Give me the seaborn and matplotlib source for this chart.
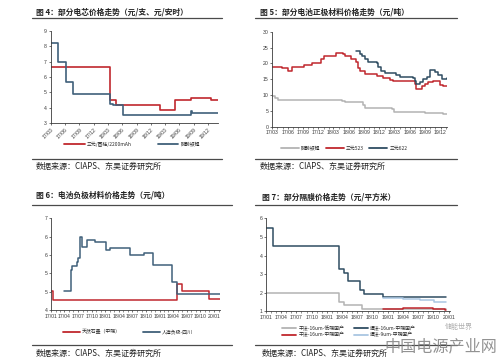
import matplotlib
matplotlib.use("Agg")
import matplotlib.pyplot as plt
import matplotlib.dates as mdates
import matplotlib.ticker as mticker
from matplotlib.lines import Line2D
import seaborn as sns
import pandas as pd

# ---------------- data ----------------
# Fig 4: cell prices
f4_ncm_dates = ["2017-03-01", "2018-03-13", "2018-04-22", "2019-01-28", "2019-05-07",
                "2019-08-13", "2019-12-22", "2020-02-01"]
f4_ncm_vals = [6.65, 4.50, 4.15, 3.85, 4.50, 4.65, 4.50, 4.50]
f4_lfp_dates = ["2017-03-01", "2017-04-18", "2017-06-04", "2017-07-22", "2018-03-13",
                "2018-04-01", "2018-06-04", "2019-08-13", "2019-08-19", "2020-02-01"]
f4_lfp_vals = [8.25, 7.00, 5.65, 4.90, 4.25, 4.15, 3.50, 3.80, 3.65, 3.65]

# Fig 5: cathode prices
f5_lfp_dates = ["2017-03-01", "2017-03-16", "2017-04-07", "2018-04-19", "2018-05-07",
                "2018-08-25", "2018-09-07", "2019-01-04", "2019-02-16", "2019-03-01",
                "2019-05-19", "2019-09-01", "2019-12-16", "2020-01-07"]
f5_lfp_vals = [9.8, 9.0, 8.5, 8.0, 7.7, 6.7, 6.0, 5.8, 5.5, 4.7, 4.5, 4.2, 4.0, 4.0]
f5_523_dates = ["2017-03-01", "2017-04-26", "2017-06-05", "2017-06-25", "2017-09-04",
                "2017-10-22", "2017-12-16", "2018-01-01", "2018-03-19", "2018-04-28",
                "2018-05-07", "2018-06-16", "2018-07-16", "2018-07-28", "2018-08-07",
                "2018-09-07", "2018-11-16", "2018-12-25", "2019-02-01", "2019-02-22",
                "2019-07-01", "2019-07-10", "2019-08-10", "2019-08-28", "2019-09-19",
                "2019-10-19", "2019-11-28", "2019-12-16", "2020-01-07"]
f5_523_vals = [19.0, 18.6, 17.6, 18.7, 19.5, 20.0, 21.3, 22.3, 23.3, 23.0,
               22.3, 21.5, 20.5, 18.5, 17.5, 16.7, 16.0, 15.3, 14.7, 14.3,
               13.5, 11.8, 12.8, 13.5, 14.0, 14.5, 13.3, 12.7, 12.7]
f5_622_dates = ["2018-07-16", "2018-08-07", "2018-08-16", "2018-09-07", "2018-09-25",
                "2018-11-16", "2018-11-25", "2018-12-13", "2019-01-04", "2019-03-13",
                "2019-04-01", "2019-06-19", "2019-07-01", "2019-07-10", "2019-08-01",
                "2019-08-19", "2019-09-10", "2019-10-01", "2019-10-28", "2019-11-16",
                "2019-12-07", "2020-01-07"]
f5_622_vals = [23.8, 23.0, 22.3, 21.3, 20.5, 20.0, 18.7, 17.5, 17.0, 16.3,
               15.8, 15.3, 14.5, 13.5, 14.2, 15.0, 15.8, 17.8, 17.3, 16.3,
               15.0, 15.3]

# Fig 6: anode prices
f6_nat_dates = ["2017-01-01", "2017-01-16", "2019-04-28", "2019-05-31", "2019-11-28", "2020-02-10"]
f6_nat_vals = [4.62, 4.33, 4.85, 4.62, 4.37, 4.37]
f6_art_dates = ["2017-03-28", "2017-05-13", "2017-05-25", "2017-06-22", "2017-07-01",
                "2017-07-13", "2017-07-28", "2017-08-28", "2017-10-22", "2018-01-04",
                "2018-02-01", "2018-06-13", "2018-09-16", "2018-11-19", "2019-03-25",
                "2019-04-28", "2020-02-10"]
f6_art_vals = [4.62, 5.31, 5.44, 5.58, 5.69, 6.40, 6.07, 6.29, 6.21, 5.96,
               6.02, 5.80, 5.85, 5.47, 4.93, 4.52, 4.52]
f6_yticks = [4.0, 4.6, 5.2, 5.8, 6.4, 7.0]

# Fig 7: separator prices
f7_dry_low_dates = ["2017-01-01", "2018-03-13", "2018-04-16", "2018-08-01", "2018-12-02", "2019-12-16"]
f7_dry_low_vals = [2.0, 1.5, 1.35, 1.15, 1.12, 1.12]
f7_wet16_dates = ["2017-01-01", "2017-02-13", "2018-03-13", "2018-04-16", "2018-05-07",
                  "2018-07-19", "2018-08-13", "2018-12-02", "2019-12-16"]
f7_wet16_vals = [5.5, 4.5, 3.25, 3.05, 2.65, 2.15, 1.95, 1.75, 1.75]
f7_dry_mid_dates = ["2018-12-02", "2019-04-04", "2019-09-28", "2019-12-07", "2019-12-16"]
f7_dry_mid_vals = [1.12, 1.18, 1.12, 1.05, 1.05]
f7_wet9_dates = ["2018-12-02", "2019-04-04", "2019-07-10", "2019-10-07", "2019-12-16"]
f7_wet9_vals = [1.72, 1.68, 1.62, 1.52, 1.52]

# ---------------- style ----------------
sns.set_theme(style="ticks")
plt.rcParams['font.family'] = ['Liberation Sans', 'Noto Sans CJK SC', 'DejaVu Sans']
CJK = ['Noto Sans CJK SC', 'DejaVu Sans']

RED = "#c0272d"
BLUE = "#40607a"
DBLUE = "#2f4d62"
GRAY = "#b3b3b3"
LBLUE = "#a9c6e2"

W, H = 501, 362
fig = plt.figure(figsize=(W / 100, H / 100), dpi=100)
fig.patch.set_facecolor("white")


def px_axes(x0, y0, x1, y1):
    return fig.add_axes([x0 / W, 1 - y1 / H, (x1 - x0) / W, (y1 - y0) / H])


def hline(x0, x1, y):
    fig.add_artist(Line2D([x0 / W, x1 / W], [1 - y / H, 1 - y / H],
                          transform=fig.transFigure, color="#4a4a4a", lw=0.9))


def ftext(x, y, s, **kw):
    fig.text(x / W, 1 - y / H, s, va="center", ha="left", family=CJK, **kw)


def style_ax(ax):
    sns.despine(ax=ax)
    for sp in ("left", "bottom"):
        ax.spines[sp].set_color("#3a3a3a")
        ax.spines[sp].set_linewidth(0.6)
    ax.tick_params(axis="both", which="major", labelsize=3.7, length=1.6, width=0.5,
                   pad=1, colors="#3a3a3a")
    ax.tick_params(axis="x", which="minor", length=1.2, width=0.4, colors="#3a3a3a")
    ax.set_xlabel("")
    ax.set_ylabel("")
    ax.set_facecolor("white")


def step(ax, dates, vals, color, label, lw=1.1):
    sns.lineplot(x=pd.to_datetime(dates), y=vals, ax=ax, color=color, lw=lw,
                 drawstyle="steps-post", label=label, legend=False)


def put_legend(ax, cx, cy, ncol, hl, cs, rs=0.3, order=None):
    handles, labels = ax.get_legend_handles_labels()
    if order is not None:
        handles = [handles[i] for i in order]
        labels = [labels[i] for i in order]
    leg = ax.legend(handles, labels, loc="center", bbox_to_anchor=(cx / W, 1 - cy / H),
                    bbox_transform=fig.transFigure, ncol=ncol, frameon=False,
                    prop={"family": CJK, "size": 3.5}, handlelength=hl,
                    columnspacing=cs, handletextpad=0.4, labelspacing=rs,
                    borderpad=0)
    for l in leg.get_lines():
        l.set_linewidth(1.3)


# ---------------- Figure 4 ----------------
ax1 = px_axes(50.7, 31, 218, 123)
step(ax1, f4_ncm_dates, f4_ncm_vals, RED, "三元/圆柱/2200mAh", lw=1.2)
step(ax1, f4_lfp_dates, f4_lfp_vals, BLUE, "磷酸铁锂", lw=1.2)
ax1.set_ylim(3, 9)
ax1.set_yticks(range(3, 10))
ax1.set_xlim(pd.Timestamp("2017-03-01"), pd.Timestamp("2020-02-04"))
ax1.xaxis.set_major_locator(mdates.MonthLocator(bymonth=[3, 6, 9, 12]))
ax1.xaxis.set_major_formatter(mdates.DateFormatter("%y/%m"))
style_ax(ax1)
for t in ax1.get_xticklabels():
    t.set_rotation(45)
    t.set_ha("right")
    t.set_rotation_mode("anchor")
put_legend(ax1, 132, 144, 2, 4.2, 5.5)

# ---------------- Figure 5 ----------------
ax2 = px_axes(272.3, 31.7, 446.7, 126.7)
step(ax2, f5_lfp_dates, f5_lfp_vals, GRAY, "磷酸铁锂")
step(ax2, f5_523_dates, f5_523_vals, RED, "三元523")
step(ax2, f5_622_dates, f5_622_vals, DBLUE, "三元622")
ax2.set_ylim(0, 30)
ax2.set_yticks(range(0, 31, 5))
ax2.set_xlim(pd.Timestamp("2017-03-01"), pd.Timestamp("2020-01-07"))
ax2.xaxis.set_major_locator(mdates.MonthLocator(bymonth=[3, 6, 9, 12]))
ax2.xaxis.set_minor_locator(mdates.MonthLocator())
ax2.xaxis.set_major_formatter(mdates.DateFormatter("%y/%m"))
style_ax(ax2)
put_legend(ax2, 344, 148, 3, 3.8, 1.0)

# ---------------- Figure 6 ----------------
ax3 = px_axes(51, 218.3, 220, 310)
step(ax3, f6_nat_dates, f6_nat_vals, RED, "天然石墨（中端）")
step(ax3, f6_art_dates, f6_art_vals, BLUE, "人造负极-四川")
ax3.set_ylim(4, 7)
ax3.set_yticks(f6_yticks)
ax3.yaxis.set_major_formatter(mticker.FormatStrFormatter("%.0f"))
ax3.set_xlim(pd.Timestamp("2017-01-01"), pd.Timestamp("2020-02-10"))
ax3.xaxis.set_major_locator(mdates.MonthLocator(bymonth=[1, 4, 7, 10]))
ax3.xaxis.set_minor_locator(mdates.MonthLocator())
ax3.xaxis.set_major_formatter(mdates.DateFormatter("%y/%m"))
style_ax(ax3)
put_legend(ax3, 128, 332, 2, 3.4, 4.7)

# ---------------- Figure 7 ----------------
ax4 = px_axes(266, 218.3, 450, 311.3)
step(ax4, f7_dry_low_dates, f7_dry_low_vals, GRAY, "干法-16um-低端国产")
step(ax4, f7_wet16_dates, f7_wet16_vals, DBLUE, "湿法-16um-中端国产")
step(ax4, f7_dry_mid_dates, f7_dry_mid_vals, RED, "干法-16um-中端国产")
step(ax4, f7_wet9_dates, f7_wet9_vals, LBLUE, "湿法-9um-中端国产")
ax4.set_ylim(1, 6)
ax4.set_yticks(range(1, 7))
ax4.set_xlim(pd.Timestamp("2017-01-01"), pd.Timestamp("2020-01-08"))
ax4.xaxis.set_major_locator(mdates.MonthLocator(bymonth=[1, 4, 7, 10]))
ax4.xaxis.set_minor_locator(mdates.MonthLocator())
ax4.xaxis.set_major_formatter(mdates.DateFormatter("%y/%m"))
style_ax(ax4)
put_legend(ax4, 349, 331.5, 2, 2.9, 2.0, rs=0.25, order=[0, 2, 1, 3])

# ---------------- titles, rules, sources ----------------
TSZ = 5.6
SSZ = 5.8
ftext(36, 11.5, "图 4：部分电芯价格走势（元/支、元/安时）", fontsize=TSZ, weight="bold", color="#222222")
ftext(260, 11.5, "图 5：部分电池正极材料价格走势（元/吨）", fontsize=TSZ, weight="bold", color="#222222")
ftext(36, 195, "图 6：电池负极材料价格走势（元/吨）", fontsize=TSZ, weight="bold", color="#222222")
ftext(262, 197, "图 7：部分隔膜价格走势（元/平方米）", fontsize=TSZ, weight="bold", color="#222222")

hline(32, 222, 17.5)
hline(255, 457, 18)
hline(32, 232, 205)
hline(255, 457, 205)
hline(32, 222, 159)
hline(255, 457, 159)
hline(32, 232, 345)
hline(255, 457, 345)

ftext(36, 166, "数据来源：CIAPS、东吴证券研究所", fontsize=SSZ, color="#222222")
ftext(260, 166, "数据来源：CIAPS、东吴证券研究所", fontsize=SSZ, color="#222222")
ftext(36, 353, "数据来源：CIAPS、东吴证券研究所", fontsize=SSZ, color="#222222")
ftext(262, 353, "数据来源：CIAPS、东吴证券研究所", fontsize=SSZ, color="#222222")

# watermark
ftext(384, 347, "中国电源产业网", fontsize=11.6, color="#7f7f7f", alpha=0.85)
ftext(445, 327, "储能世界", fontsize=5, color="#9a9a9a", alpha=0.8)

fig.savefig("out.png", dpi=100, facecolor="white")
